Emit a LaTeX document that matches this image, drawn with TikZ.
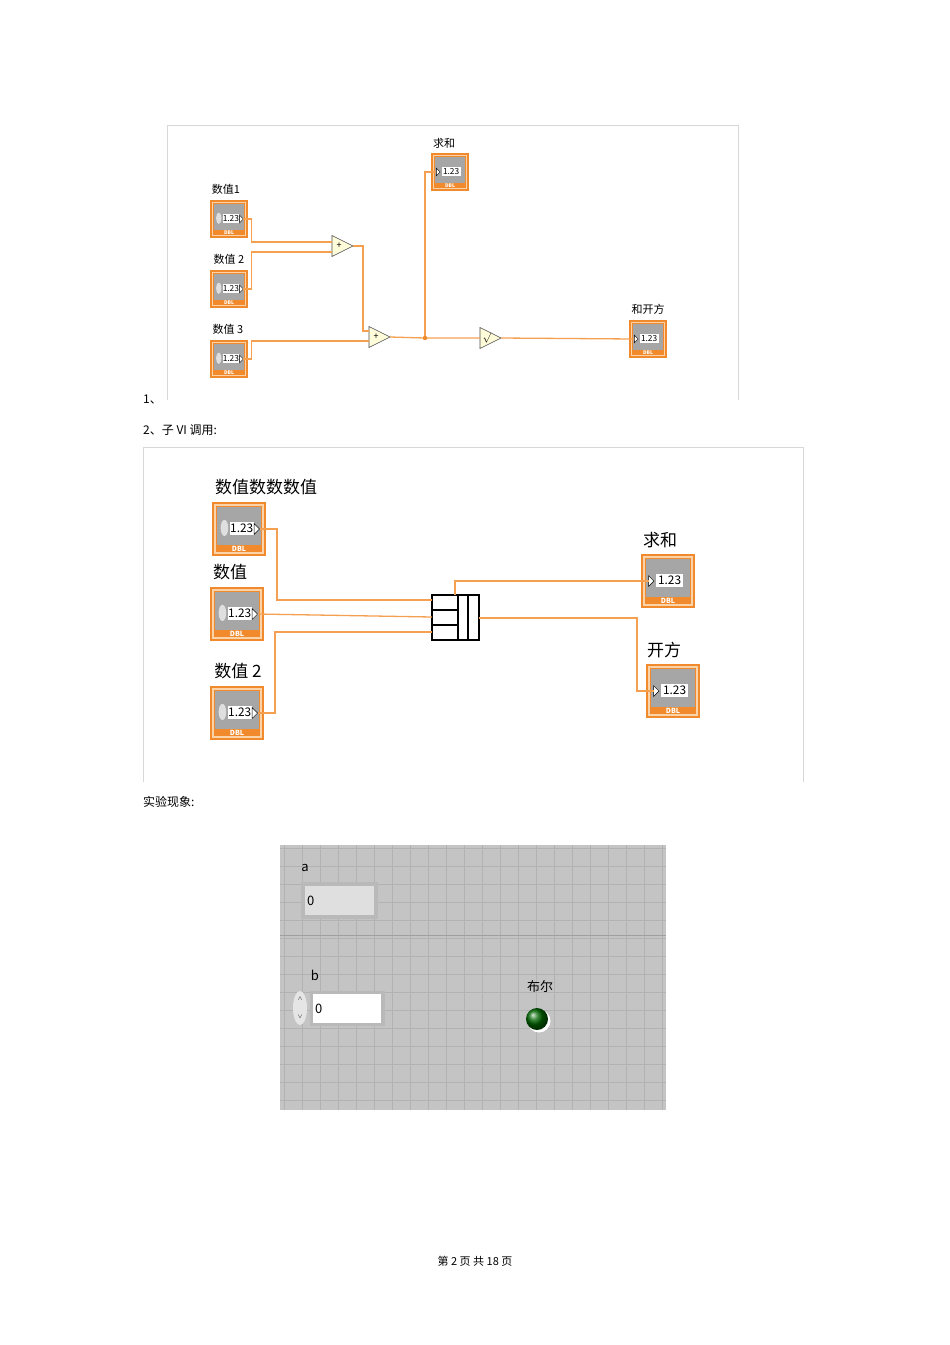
\documentclass[tikz,border=0pt]{standalone}
\usepackage{fontspec}
\setmainfont{Noto Sans CJK SC}
\definecolor{lvor}{HTML}{F08A2C}
\definecolor{lvorl}{HTML}{FBD3A8}
\definecolor{lvgray}{HTML}{A6A6A6}
\definecolor{wirec}{HTML}{F5A050}
\definecolor{panelg}{HTML}{C4C4C4}
\definecolor{gridg}{HTML}{B2B2B2}
\definecolor{framec}{HTML}{D8D8D8}
\tikzset{wire/.style={draw=wirec,line width=1.3pt},
 frame/.style={draw=framec,line width=0.8pt},
 lbl/.style={inner sep=0pt,font=\fontsize{#1}{#1}\selectfont},
 lbl/.default=11pt,
 addtri/.style={draw=black!70,fill=yellow!15,line width=0.6pt}}
% #1 name, #2 cx, #3 cy, #4 size, #5 0=ctl 1=ind
\newcommand\lvterm[5]{%
\begin{scope}[shift={(#2,#3)}]
\pgfmathsetmacro\s{#4}\pgfmathsetmacro\fs{0.22*#4}\pgfmathsetmacro\fd{0.13*#4}
\node[minimum size=#4pt,inner sep=0pt,fill=lvor] (#1) at (0,0) {};
\draw[lvorl,line width={0.03*\s}] ({-0.44*\s},{-0.44*\s}) rectangle ({0.44*\s},{0.44*\s});
\fill[lvgray] ({-0.4*\s},{-0.4*\s}) rectangle ({0.4*\s},{0.3*\s});
\ifnum#5=0
 \fill[gray!25] ({-0.27*\s},{-0.02*\s}) ellipse[x radius={0.07*\s},y radius={0.15*\s}];
 \fill[white] ({-0.17*\s},{-0.13*\s}) rectangle ({0.27*\s},{0.11*\s});
 \node[inner sep=0pt,font=\fontsize{\fs pt}{\fs pt}\selectfont] at ({0.05*\s},{-0.01*\s}) {1.23};
 \draw[fill=white,line width=0.4pt] ({0.28*\s},{-0.1*\s}) -- ({0.38*\s},0) -- ({0.28*\s},{0.1*\s}) -- cycle;
 \coordinate (#1o) at ({0.38*\s},0);
\else
 \fill[white] ({-0.22*\s},{-0.13*\s}) rectangle ({0.28*\s},{0.11*\s});
 \node[inner sep=0pt,font=\fontsize{\fs pt}{\fs pt}\selectfont] at ({0.03*\s},{-0.01*\s}) {1.23};
 \draw[fill=white,line width=0.4pt] ({-0.36*\s},{-0.1*\s}) -- ({-0.26*\s},0) -- ({-0.36*\s},{0.1*\s}) -- cycle;
 \coordinate (#1i) at ({-0.36*\s},0);
\fi
\node[inner sep=0pt,text=white,font=\fontsize{\fd pt}{\fd pt}\selectfont\bfseries] at (0,{0.37*\s}) {DBL};
\end{scope}}
% triangle: #1 name, #2 left x, #3 cy, #4 symbol
\newcommand\lvtri[4]{%
\draw[addtri] (#2,#3-10.5) -- (#2+21,#3) -- (#2,#3+10.5) -- cycle;
\node[inner sep=0pt,font=\fontsize{9pt}{9pt}\selectfont] (#1) at (#2+7,#3) {#4};
\coordinate (#1o) at (#2+21,#3);}
\begin{document}
\begin{tikzpicture}[x=1pt,y=-1pt]
\useasboundingbox[fill=white] (0,0) rectangle (950,1345);
% ---------- panel 1
\draw[frame] (167,400) -- (167,125) -- (738,125) -- (738,400);
\node[lbl] at (226,189) {数值1};
\node[lbl] at (229,259) {数值 2};
\node[lbl] at (228,329) {数值 3};
\node[lbl] at (444,143) {求和};
\node[lbl] at (648,309) {和开方};
\lvterm{c1}{229}{219}{38}{0}
\lvterm{c2}{229}{289}{38}{0}
\lvterm{c3}{229}{359}{38}{0}
\lvterm{sum}{450}{172}{38}{1}
\lvterm{sq}{648}{339}{38}{1}
\lvtri{add1}{332}{246}{+}
\lvtri{add2}{369}{337}{+}
\draw[addtri] (480,327.5) -- (501,338) -- (480,348.5) -- cycle;
\node[inner sep=0pt,font=\fontsize{10pt}{10pt}\selectfont] (sqrt) at (487,338) {$\surd$};
\coordinate (sqrto) at (501,338);
\coordinate (a1i1) at (332,242); \coordinate (a1i2) at (332,252);
\coordinate (a2i1) at (369,331); \coordinate (a2i2) at (369,341);
\coordinate (jn) at (425,338);
\draw[wire] (c1o) -- ++(8,0) |- (a1i1);
\draw[wire] (c2o) -- ++(8,0) |- (a1i2);
\draw[wire] (c3o) -- ++(8,0) |- (a2i2);
\draw[wire] (add1o) -- (363,246) |- (a2i1);
\draw[wire] (add2o) -- (jn) -- (480,338);
\draw[wire] (jn) |- (sumi);
\draw[wire] (sqrto) -- (sqi);
\fill[lvor] (jn) circle (2.2);
\node[lbl=12pt,anchor=west] at (143,400) {1、};
\node[lbl=12pt,anchor=west] at (143,430) {2、子 VI 调用:};
% ---------- panel 2
\draw[frame] (143,782) -- (143,447) -- (803,447) -- (803,782);
\node[lbl=17pt] at (266,487) {数值数数数值};
\node[lbl=17pt] at (230,572) {数值};
\node[lbl=17pt] at (238,671) {数值 2};
\node[lbl=17pt] at (660,540) {求和};
\node[lbl=17pt] at (664,650) {开方};
\lvterm{d1}{239}{529}{54}{0}
\lvterm{d2}{237}{614}{54}{0}
\lvterm{d3}{237}{713}{54}{0}
\lvterm{dsum}{668}{581}{54}{1}
\lvterm{dsq}{673}{691}{54}{1}
\node[draw=black,line width=1.2pt,minimum width=47pt,minimum height=45pt,inner sep=0pt,fill=white] (svi) at (455.5,617.5) {};
\draw[line width=1.2pt] (458,595) -- (458,640) (468,595) -- (468,640) (432,610) -- (458,610) (432,625) -- (458,625);
\coordinate (si1) at (432,600); \coordinate (si2) at (432,617); \coordinate (si3) at (432,632);
\coordinate (so1) at (455,595); \coordinate (so2) at (479,618);
\draw[wire] (d1o) -- (277,529) |- (si1);
\draw[wire] (d2o) -- (si2);
\draw[wire] (d3o) -- (275,713) |- (si3);
\draw[wire] (so1) |- (dsumi);
\draw[wire] (so2) -- (637,618) |- (dsqi);
\node[lbl=12pt,anchor=west] at (143,802) {实验现象:};
% ---------- panel 3
\fill[panelg] (280,845) rectangle (666,1110);
\foreach \i in {0,...,21} \draw[gridg,line width=0.7pt] (284+18*\i,845) -- (284+18*\i,1110);
\foreach \j in {0,...,14} \draw[gridg,line width=0.7pt] (280,848+18*\j) -- (666,848+18*\j);
\draw[gray!75,line width=1pt] (280,935) -- (666,935);
\node[lbl=13pt] at (305,868) {a};
\fill[gray!55] (301,882) rectangle (378,919);
\node[fill=gray!25,minimum width=69pt,minimum height=29pt,inner sep=0pt] (aind) at (339.5,900.5) {};
\node[lbl=13pt,anchor=west] at (307,901) {0};
\node[lbl=13pt] at (315,975) {b};
\fill[gray!55] (310,991) rectangle (385,1026);
\node[fill=white,minimum width=68pt,minimum height=29pt,inner sep=0pt] (bctl) at (347,1008.5) {};
\node[lbl=13pt,anchor=west] at (315,1009) {0};
\fill[gray!20] (300,1008) ellipse[x radius=7,y radius=17];
\node[lbl=6pt] at (300,999) {$\wedge$};
\node[lbl=6pt] at (300,1017) {$\vee$};
\node[lbl=13pt] at (540,987) {布尔};
\fill[white] (539,1021) circle (11.5);
\shade[ball color=green!40!black] (537,1019) circle (11);
% footer
\node[lbl=11pt] at (475,1261) {第 2 页 共 18 页};
\end{tikzpicture}
\end{document}
